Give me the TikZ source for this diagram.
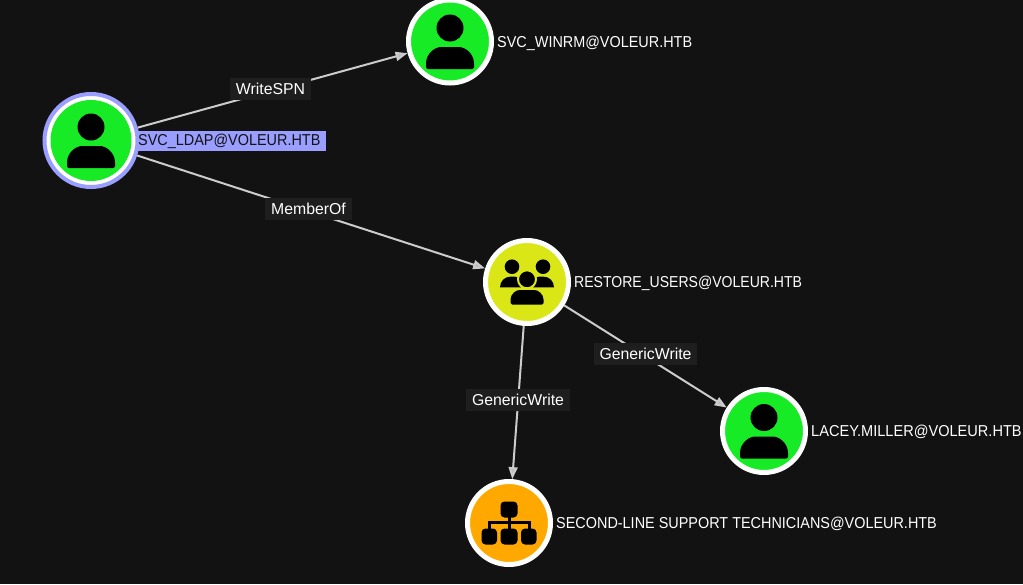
\documentclass[tikz,border=0pt]{standalone}
\usepackage{fontspec}
\setmainfont{Liberation Sans}
\newfontfamily\namefont[FakeStretch=0.913]{Liberation Sans}
\newfontfamily\namefontnarrow[FakeStretch=0.889]{Liberation Sans}
\newfontfamily\namefontwide[FakeStretch=0.922]{Liberation Sans}
\usetikzlibrary{arrows.meta}
\definecolor{bgc}{HTML}{121212}
\definecolor{labbg}{HTML}{1E1E1E}
\definecolor{edgec}{HTML}{CCCCCC}
\definecolor{tipc}{HTML}{BDBDBD}
\definecolor{usergreen}{HTML}{17EB25}
\definecolor{groupyellow}{HTML}{DBE617}
\definecolor{ouorange}{HTML}{FFA800}
\definecolor{ringblue}{HTML}{9A9EFF}
\tikzset{
  x=1pt,y=-1pt,
  graphnode/.style={circle,draw=white,line width=5pt,minimum size=83pt,inner sep=0pt},
  startring/.style={circle,draw=ringblue,fill=white,line width=4pt,minimum size=93pt,inner sep=0pt},
  startcore/.style={circle,fill=usergreen,minimum size=81pt,inner sep=0pt,outer sep=0pt},
  namelabel/.style={anchor=west,text=white,inner sep=0pt,font=\namefont\fontsize{15.8pt}{18pt}\selectfont},
  startlabel/.style={anchor=west,text=bgc,fill=ringblue,inner xsep=2pt,inner ysep=0pt,text width=186pt,minimum height=20pt,font=\namefont\fontsize{15.8pt}{18pt}\selectfont},
  edgelabel/.style={fill=labbg,text=white,inner xsep=6pt,inner ysep=0pt,minimum height=22pt,font=\fontsize{15.8pt}{18pt}\selectfont},
  relation/.style={draw=edgec,line width=2pt,-{Triangle[length=12pt,width=9pt,fill=tipc]}},
  personicon/.pic={
    \fill[black] (0,-13.5) circle[radius=13.5];
    \fill[black,rounded corners=2pt] (-24,27.5) -- (-24,24) .. controls (-24,12) and (-15,5.5) .. (-7,5.5) -- (7,5.5) .. controls (15,5.5) and (24,12) .. (24,24) -- (24,27.5) -- cycle;
  },
  groupicon/.pic={
    \fill[black] (-15,-15.3) circle[radius=7.3];
    \fill[black] (16,-15.3) circle[radius=7.3];
    \fill[black] (-27,5.3) .. controls (-27,-1) and (-22,-5.3) .. (-17,-5.3) -- (-12,-5.3) .. controls (-9,-5.3) and (-7,-3) .. (-6,5.3) -- cycle;
    \fill[black] (27,5.3) .. controls (27,-1) and (22,-5.3) .. (17,-5.3) -- (12,-5.3) .. controls (9,-5.3) and (7,-3) .. (6,5.3) -- cycle;
    \fill[black,draw=groupyellow,line width=2pt] (0,-2.7) circle[radius=9];
    \fill[black,rounded corners=1.5pt] (-16.5,22.5) -- (-16.5,19) .. controls (-16.5,12) and (-11,8) .. (-6,8) -- (6,8) .. controls (11,8) and (16.5,12) .. (16.5,19) -- (16.5,22.5) -- cycle;
  },
  orgicon/.pic={
    \fill[black,rounded corners=4pt] (-8.5,-21.5) rectangle (8.5,-5.5);
    \fill[black,rounded corners=4pt] (-27.5,5.5) rectangle (-12,21.5);
    \fill[black,rounded corners=4pt] (-8.5,5.5) rectangle (8.5,21.5);
    \fill[black,rounded corners=4pt] (12,5.5) rectangle (27.5,21.5);
    \draw[black,line width=3pt] (0,-6) -- (0,7);
    \draw[black,line width=3pt] (-20,7) -- (-20,-1) -- (20,-1) -- (20,7);
  },
}
\begin{document}
\begin{tikzpicture}
\useasboundingbox (0,0) rectangle (1023,584);
\fill[bgc] (0,0) rectangle (1023,584);
% nodes
\node[startring] (ldap) at (91,140.5) {};
\node[startcore] (ldapcore) at (91,140.5) {};
\node[graphnode,fill=usergreen] (winrm) at (450,41.5) {};
\node[graphnode,fill=groupyellow] (restore) at (527,282) {};
\node[graphnode,fill=usergreen] (lacey) at (764,431) {};
\node[graphnode,fill=ouorange] (second) at (509,523) {};
% icons
\pic at (ldap) {personicon};
\pic at (winrm) {personicon};
\pic at (lacey) {personicon};
\pic at (restore) {groupicon};
\pic at (second) {orgicon};
% connectors
\draw[relation] (ldap) -- (winrm);
\draw[relation] (ldap) -- (restore);
\draw[relation] (restore) -- (lacey);
\draw[relation] (restore) -- (second);
% connector labels
\node[edgelabel] (l1) at (270.5,88.5) {WriteSPN};
\node[edgelabel] (l2) at (308.5,209) {MemberOf};
\node[edgelabel] (l3) at (645.5,354) {GenericWrite};
\node[edgelabel] (l4) at (518,400) {GenericWrite};
% names
\node[startlabel] (nl) at (136,141) {SVC\_LDAP@VOLEUR.HTB};
\node[namelabel] (nw) at (497,43) {SVC\_WINRM@VOLEUR.HTB};
\node[namelabel,font=\namefontnarrow\fontsize{15.8pt}{18pt}\selectfont] (nr) at (574,283.5) {RESTORE\_USERS@VOLEUR.HTB};
\node[namelabel,font=\namefontwide\fontsize{15.8pt}{18pt}\selectfont] (nc) at (811,432) {LACEY.MILLER@VOLEUR.HTB};
\node[namelabel] (ns) at (556,524) {SECOND-LINE SUPPORT TECHNICIANS@VOLEUR.HTB};
\end{tikzpicture}
\end{document}
